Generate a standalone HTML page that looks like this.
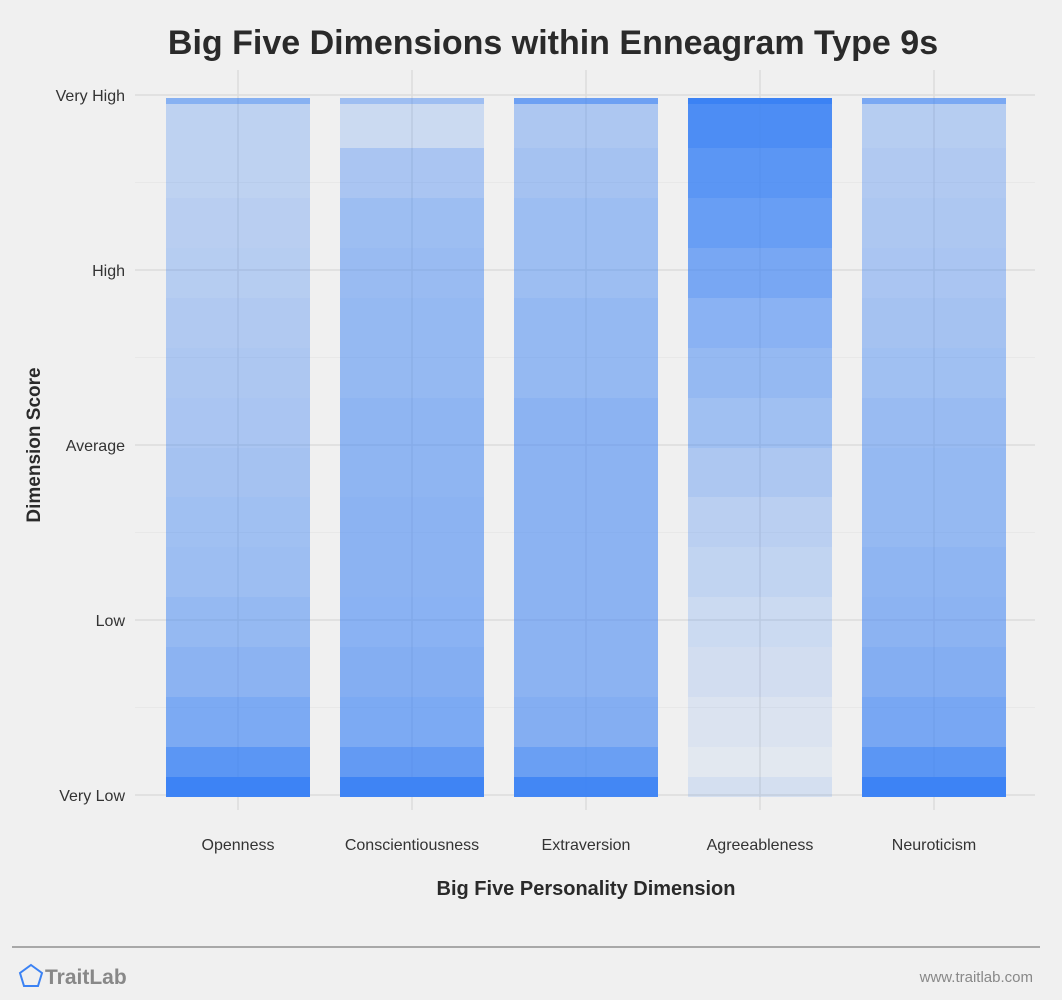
<!DOCTYPE html>
<html><head><meta charset="utf-8"><style>
body{margin:0;background:#f0f0f0;font-family:"Liberation Sans",sans-serif;}
svg{display:block}
</style></head><body>
<svg width="1062" height="1000">
<rect width="1062" height="1000" fill="#f0f0f0"/>
<text x="553" y="54" text-anchor="middle" font-size="34" font-weight="bold" fill="#2a2a2a">Big Five Dimensions within Enneagram Type 9s</text>
<g id="grid"></g>
<g id="marks" shape-rendering="crispEdges"></g>
<g id="yticks"></g>
<g id="xticks"></g>
<text transform="translate(40,445) rotate(-90)" text-anchor="middle" font-size="19" font-weight="bold" fill="#2a2a2a">Dimension Score</text>
<text x="586" y="895" text-anchor="middle" font-size="20" font-weight="bold" fill="#2a2a2a">Big Five Personality Dimension</text>
<line x1="12" y1="947" x2="1040" y2="947" stroke="#a8a8a8" stroke-width="2"/>
<polygon points="31,965 42,973 38,986 24,986 20,973" fill="none" stroke="#3b82f4" stroke-width="2"/>
<text x="45" y="984" font-size="21" font-weight="bold" fill="#888">TraitLab</text>
<text x="1033" y="982" text-anchor="end" font-size="15" fill="#888">www.traitlab.com</text>
</svg>
<script>
const categories=["Openness","Conscientiousness","Extraversion","Agreeableness","Neuroticism"];
const yTickLabels=["Very Low","Low","Average","High","Very High"];
// density per band, bottom (Very Low) to top (Very High)
const openness=[0.9,0.7,0.6,0.55,0.5,0.48,0.45,0.42,0.4,0.38,0.35,0.33,0.3,0.3];
const conscientiousness=[0.85,0.7,0.65,0.62,0.6,0.6,0.58,0.58,0.55,0.55,0.52,0.5,0.42,0.22];
const extraversion=[0.8,0.65,0.6,0.6,0.6,0.6,0.6,0.6,0.55,0.55,0.5,0.5,0.45,0.4];
const agreeableness=[0.08,0.12,0.18,0.22,0.28,0.32,0.4,0.48,0.55,0.62,0.72,0.82,0.9,0.98];
const neuroticism=[0.9,0.72,0.65,0.6,0.58,0.55,0.55,0.52,0.48,0.45,0.42,0.4,0.38,0.35];
const series=[openness,conscientiousness,extraversion,agreeableness,neuroticism];
const NS="http://www.w3.org/2000/svg";
const yScale=v=>795-v*175;
const xScale=i=>238+i*174;
const colW=144;
const grid=document.getElementById('grid'),marks=document.getElementById('marks'),yt=document.getElementById('yticks'),xt=document.getElementById('xticks');
function mk(t,a){const e=document.createElementNS(NS,t);for(const k in a)e.setAttribute(k,a[k]);return e;}
for(let v=0;v<=4;v+=0.5){
  const l=mk('line',{x1:135,x2:1035,y1:yScale(v),y2:yScale(v),stroke:v%1?'#e8e8e8':'#dcdcdc','stroke-width':v%1?1:1.5});
  
  
  grid.appendChild(l);
}
categories.forEach((c,i)=>{
  const l=mk('line',{x1:xScale(i),x2:xScale(i),y1:70,y2:810,stroke:'#dcdcdc','stroke-width':1.5});
  
  
  grid.appendChild(l);
});
yTickLabels.forEach((t,i)=>{
  const e=mk('text',{x:125,y:yScale(i)+6,'text-anchor':'end','font-size':16,fill:'#333'});
  e.textContent=t;
  
  
  yt.appendChild(e);
});
categories.forEach((c,i)=>{
  const e=mk('text',{x:xScale(i),y:850,'text-anchor':'middle','font-size':16,fill:'#333'});
  e.textContent=c;
  
  
  xt.appendChild(e);
  const d=series[i],n=d.length;
  const top=yScale(4)+3,bottom=yScale(0)+2;
  const g=mk('g',{});
  
  
  d.forEach((v,j)=>{
    const yb=Math.round(bottom-j*(bottom-top)/n), ya=Math.round(bottom-(j+1)*(bottom-top)/n);
    const r=mk('rect',{x:xScale(i)-colW/2,y:ya,width:colW,height:yb-ya,fill:'#3b82f4','fill-opacity':Math.min(1,v*0.92)});
    
    
    g.appendChild(r);
  });
  const bot=mk('rect',{x:xScale(i)-colW/2,y:bottom-20,width:colW,height:20,fill:'#3b82f4','fill-opacity':Math.min(1,d[0]*1.05)});
  
  
  g.appendChild(bot);
  const tp=mk('rect',{x:xScale(i)-colW/2,y:top,width:colW,height:6,fill:'#3b82f4','fill-opacity':Math.min(1,d[n-1]*1.4)});
  
  
  g.appendChild(tp);
  marks.appendChild(g);
});
</script>
</body></html>
